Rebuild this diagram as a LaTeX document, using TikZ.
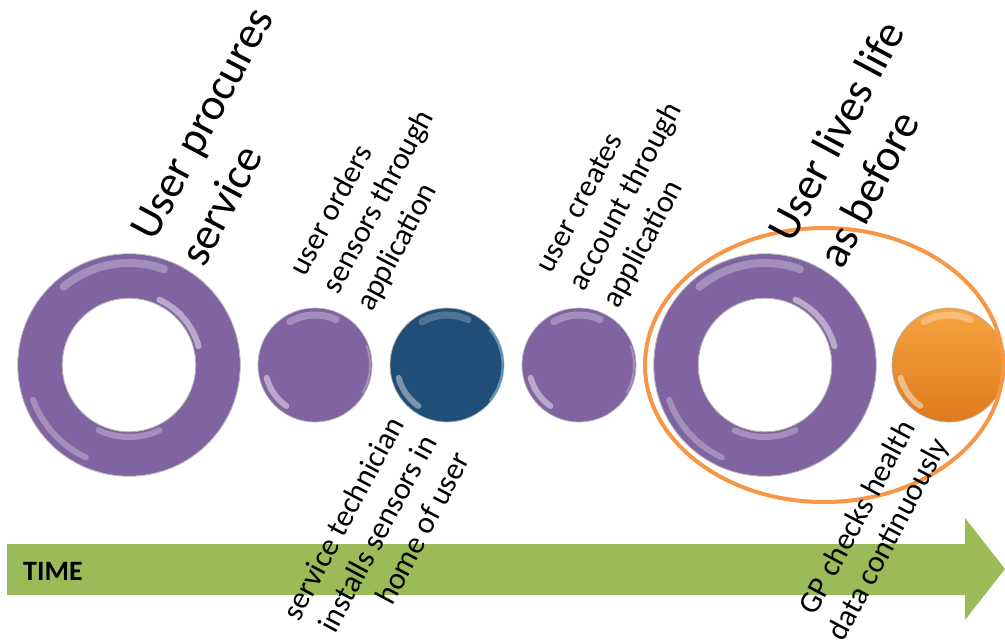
\documentclass[tikz,border=0pt]{standalone}
\usepackage{fontspec}
\setmainfont{Carlito}
\definecolor{ringpurple}{HTML}{8064A2}
\definecolor{navyblue}{HTML}{1F4E79}
\definecolor{orangetop}{HTML}{F7A340}
\definecolor{orangebot}{HTML}{DE7A1E}
\definecolor{orangeline}{HTML}{F79646}
\definecolor{arrowgreen}{HTML}{9BBB59}
\tikzset{
  ringnode/.style={circle, draw=ringpurple, line width=44pt, minimum size=178pt, inner sep=0pt, outer sep=0pt},
  dotnode/.style={circle, minimum size=114pt, inner sep=0pt, outer sep=0pt, draw=black!30, line width=0.7pt},
  hl/.style={white, line cap=round, draw opacity=0.28},
  rimline/.style={black!30, line width=0.8pt},
  toptext/.style={rotate=62, anchor=base west, align=left, inner sep=0pt, text=black},
  bottext/.style={rotate=62, anchor=base east, align=right, inner sep=0pt, text=black},
  bigfont/.style={font=\fontsize{45}{56}\selectfont},
  smallfont/.style={font=\fontsize{31}{37.5}\selectfont},
}
\begin{document}
\begin{tikzpicture}[x=1pt, y=1pt]
\useasboundingbox (0,0) rectangle (1005,-642);
% time arrow
\fill[arrowgreen] (7,-544) -- (965,-544) -- (965,-518) -- (1005,-569) -- (965,-620) -- (965,-595) -- (7,-595) -- cycle;
\node[anchor=base west, inner sep=0pt, font=\fontsize{28}{34}\selectfont\bfseries] (time) at (23,-580) {TIME};

% big ring 1
\node[ringnode] (ringA) at (129,-365) {};
\draw[rimline] (ringA.center) circle (111.3) (ringA.center) circle (66.7);
\draw[hl, line width=8pt] ([shift={(70:102)}]ringA.center) arc (70:130:102);
\draw[hl, line width=6pt, draw opacity=0.45] ([shift={(15:72)}]ringA.center) arc (15:65:72);
\draw[hl, line width=6pt] ([shift={(200:102)}]ringA.center) arc (200:245:102);
\draw[hl, line width=6pt] ([shift={(245:72)}]ringA.center) arc (245:295:72);

% small purple dot 1
\node[dotnode, fill=ringpurple] (dotA) at (315,-365) {};
\draw[hl, line width=7pt] ([shift={(65:50)}]dotA.center) arc (65:120:50);
\draw[hl, line width=6pt, draw opacity=0.45] ([shift={(195:50)}]dotA.center) arc (195:235:50);
\draw[hl, line width=2pt] ([shift={(330:55)}]dotA.center) arc (330:380:55);

% blue dot
\node[dotnode, fill=navyblue] (dotB) at (447,-365) {};
\draw[hl, line width=7pt, draw opacity=0.22] ([shift={(65:50)}]dotB.center) arc (65:120:50);
\draw[hl, line width=6pt, draw opacity=0.4] ([shift={(195:50)}]dotB.center) arc (195:235:50);
\draw[white!60!cyan, line width=2pt, draw opacity=0.5] ([shift={(320:55.5)}]dotB.center) arc (320:400:55.5);

% small purple dot 2
\node[dotnode, fill=ringpurple] (dotC) at (579,-365) {};
\draw[hl, line width=7pt] ([shift={(65:50)}]dotC.center) arc (65:120:50);
\draw[hl, line width=6pt, draw opacity=0.45] ([shift={(195:50)}]dotC.center) arc (195:235:50);
\draw[hl, line width=2pt] ([shift={(330:55)}]dotC.center) arc (330:380:55);

% big ring 2
\node[ringnode] (ringB) at (765,-365) {};
\draw[rimline] (ringB.center) circle (111.3) (ringB.center) circle (66.7);
\draw[hl, line width=8pt] ([shift={(70:102)}]ringB.center) arc (70:130:102);
\draw[hl, line width=6pt, draw opacity=0.45] ([shift={(15:72)}]ringB.center) arc (15:65:72);
\draw[hl, line width=6pt] ([shift={(200:102)}]ringB.center) arc (200:245:102);
\draw[hl, line width=6pt] ([shift={(245:72)}]ringB.center) arc (245:295:72);

% orange dot
\node[dotnode, top color=orangetop, bottom color=orangebot] (dotD) at (949,-365) {};
\draw[hl, line width=7pt, draw opacity=0.3] ([shift={(65:50)}]dotD.center) arc (65:120:50);
\draw[hl, line width=6pt, draw opacity=0.45] ([shift={(195:50)}]dotD.center) arc (195:235:50);

% highlight ellipse
\draw[orangeline, line width=4pt] (824,-365) ellipse [x radius=179, y radius=137];

% labels
\node[toptext, bigfont] (t1) at (204,-269) {User procures\\service};
\node[toptext, smallfont] (t2) at (372,-313) {user orders\\sensors through\\application};
\node[bottext, smallfont] (t3) at (471,-459) {service technician\\installs sensors in\\home of user};
\node[toptext, smallfont] (t4) at (618,-310) {user creates\\account through\\application};
\node[toptext, bigfont] (t5) at (842,-271) {User lives life\\as before};
\node[bottext, smallfont] (t6) at (949,-445) {GP checks health\\data continuously};
\end{tikzpicture}
\end{document}
